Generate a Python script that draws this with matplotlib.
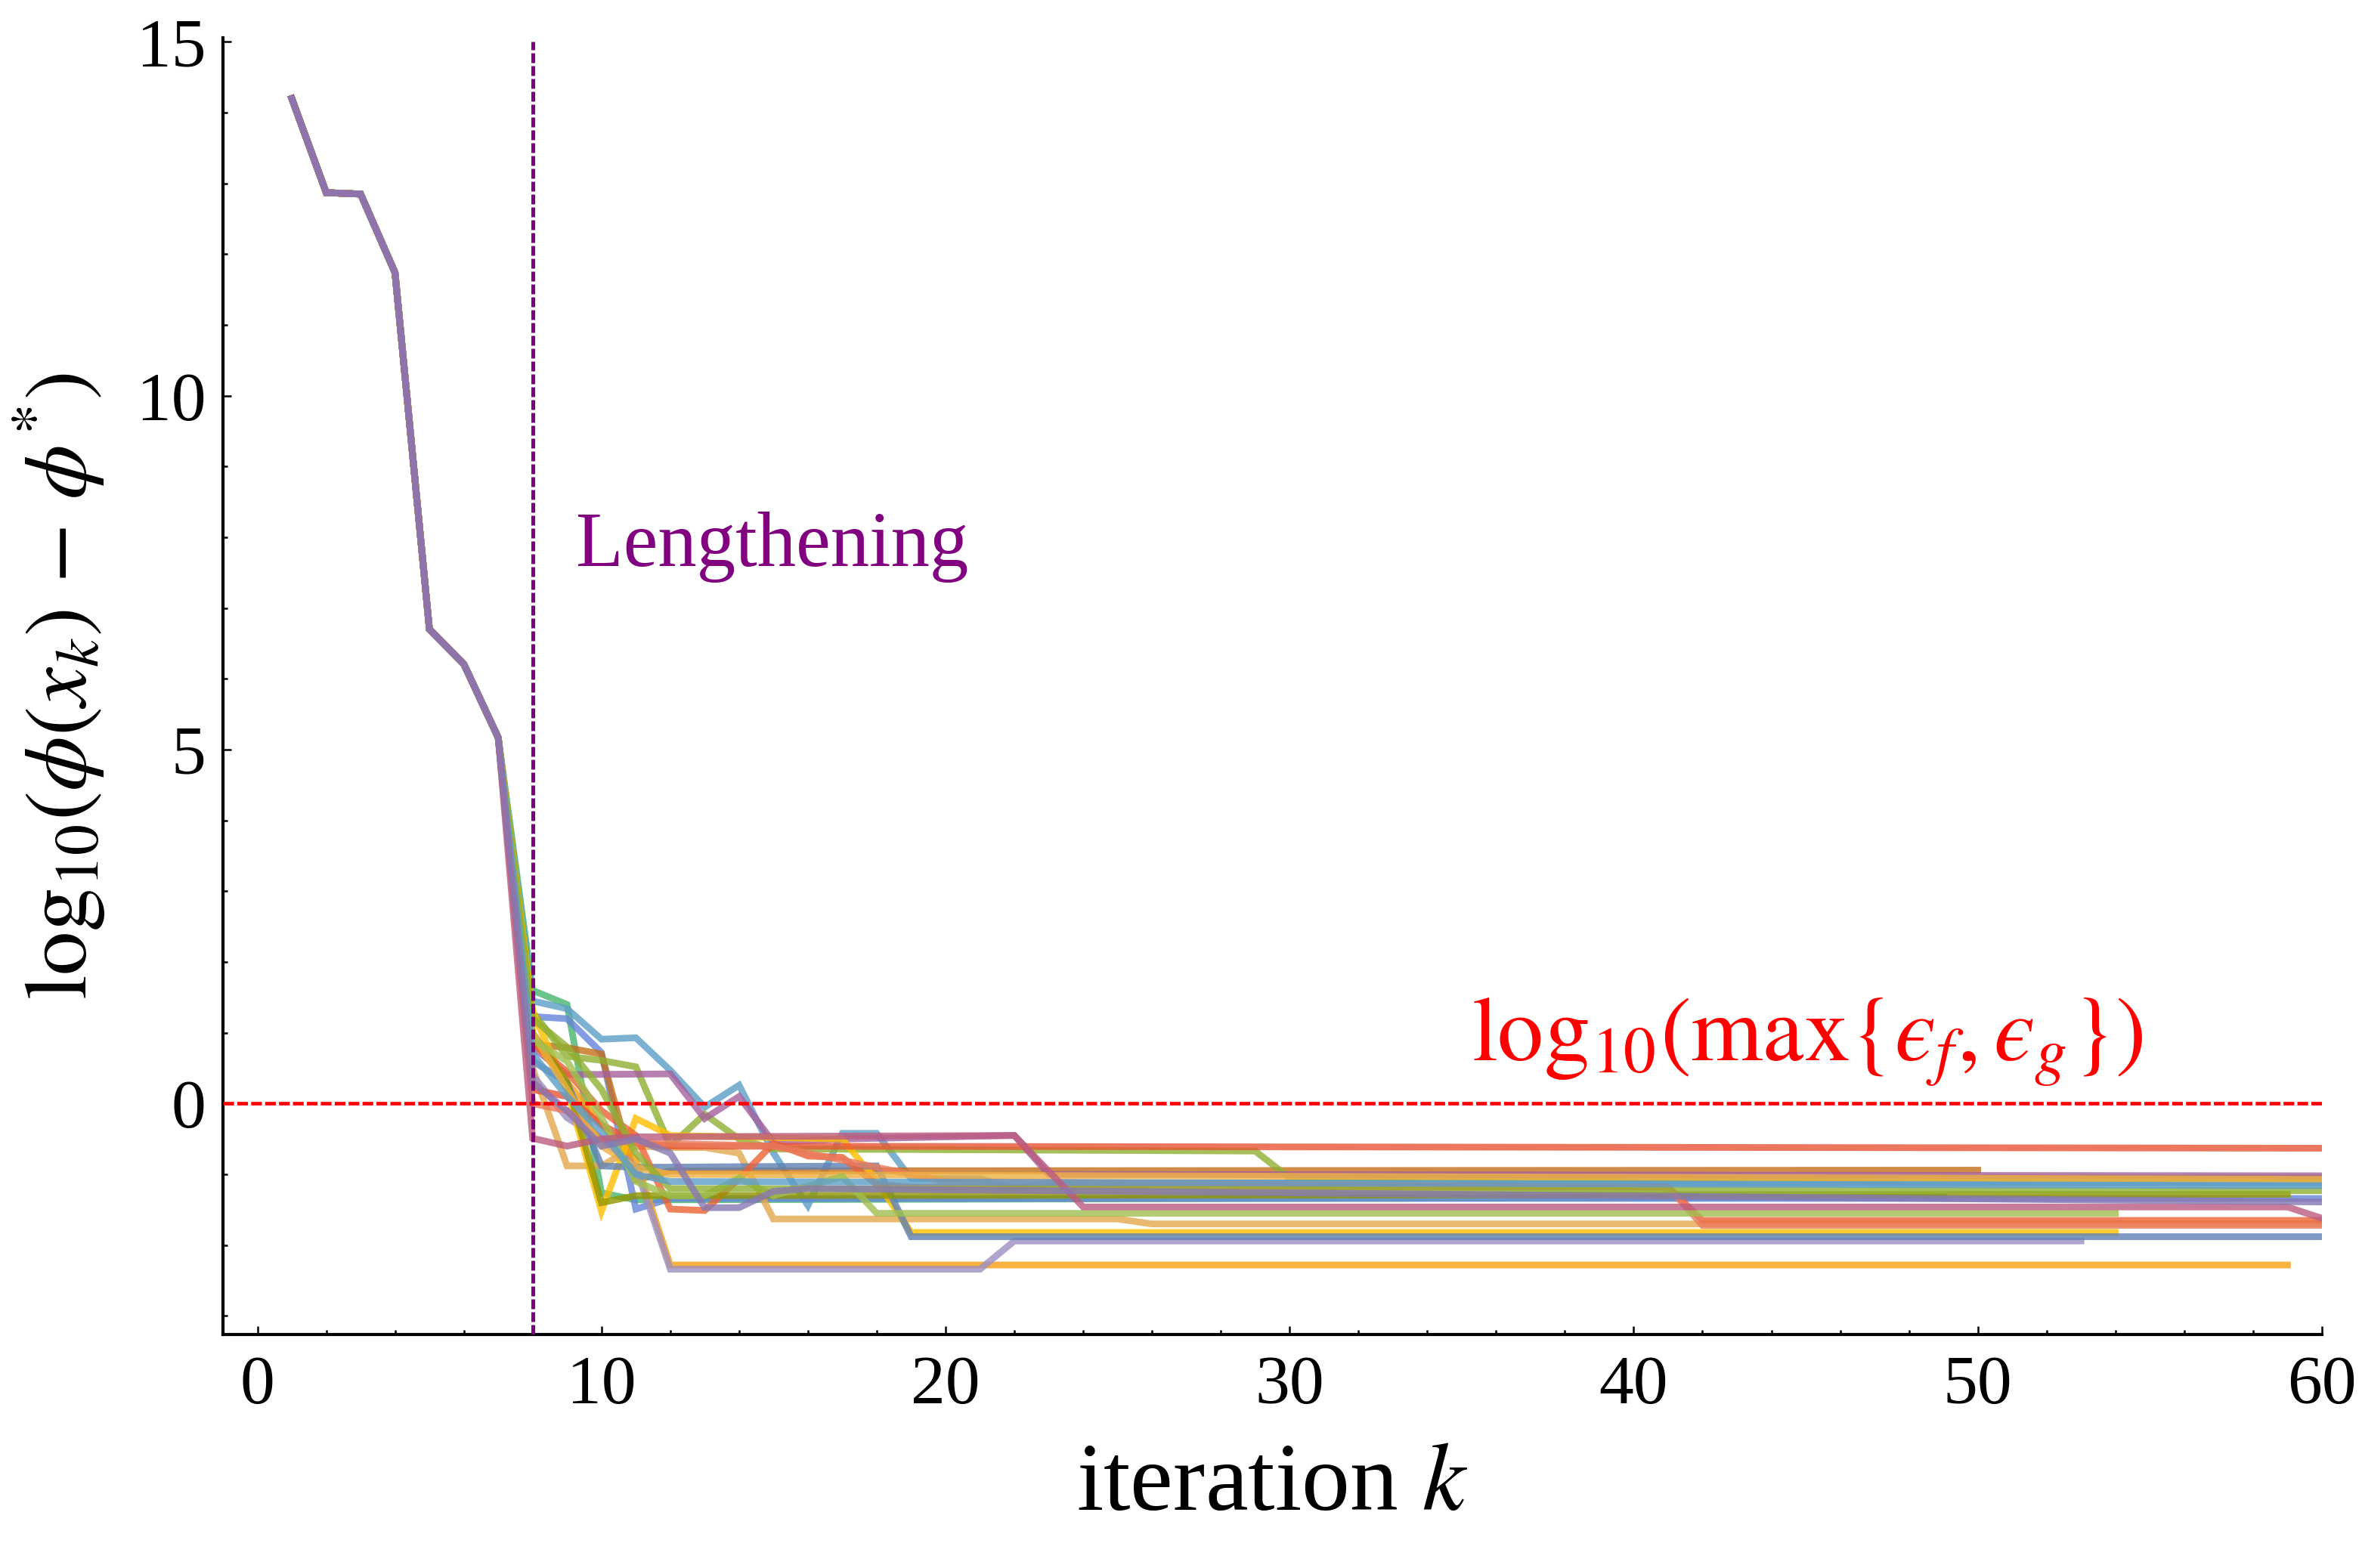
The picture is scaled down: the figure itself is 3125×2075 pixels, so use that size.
import matplotlib
matplotlib.use('Agg')
import matplotlib.pyplot as plt
from matplotlib.ticker import MultipleLocator

plt.rcParams['font.family'] = ['Liberation Serif', 'DejaVu Serif']
plt.rcParams['mathtext.fontset'] = 'stix'

# shared first iterations (k = 1..7), before the lengthening step
head_k = [1, 2, 3, 4, 5, 6, 7]
head_val = [14.2, 12.87, 12.85, 11.74, 6.70, 6.21, 5.17]

# each run after k = 8: vertices (k, value)
run_colors = [
    '#47B66D', '#5D9EC7', '#6685D9', '#C56E1A', '#8FB032', '#A5609D',
    '#E3A84E', '#F89F13', '#9C8FC0', '#FFBF00', '#5E81B5', '#EB6235',
    '#929600', '#E95536', '#EB7B5D', '#F0B040', '#A0C050', '#8FB032',
    '#5D9EC7', '#BC5B80', '#8778B3',
]
run_k = [
    [8, 9, 10, 11, 49],
    [8, 9, 10, 11, 12, 13, 14, 15, 16, 17, 18, 19, 21, 22, 23, 60],
    [8, 9, 10, 11, 12, 60],
    [8, 9, 10, 11, 12, 50],
    [8, 9, 10, 11, 12, 13, 14, 15, 29, 30, 60],
    [8, 9, 12, 13, 14, 15, 17, 22, 23, 60],
    [8, 9, 10, 11, 12, 13, 14, 15, 25, 26, 60],
    [8, 9, 10, 11, 12, 59],
    [8, 9, 10, 11, 12, 21, 22, 53],
    [8, 9, 10, 11, 12, 17, 18, 19, 54],
    [8, 9, 10, 11, 18, 19, 60],
    [8, 9, 10, 11, 12, 13, 14, 15, 16, 17, 18, 19, 41, 42, 60],
    [8, 9, 10, 11, 59],
    [8, 9, 10, 11, 12, 60],
    [8, 9, 10, 11, 15, 20, 41, 42, 60],
    [8, 9, 10, 11, 12, 60],
    [8, 9, 10, 11, 12, 13, 14, 15, 17, 18, 54],
    [8, 9, 10, 11, 12, 60],
    [8, 9, 10, 11, 12, 60],
    [8, 9, 10, 11, 22, 24, 59, 60],
    [8, 9, 10, 11, 12, 13, 14, 15, 16, 60],
]
run_val = [
    [1.60, 1.40, -1.26, -1.36, -1.32],
    [1.45, 1.34, 0.91, 0.93, 0.47, -0.05, 0.26, -0.70, -1.44, -0.42, -0.42, -1.06, -1.06, -1.20, -1.12, -1.12],
    [1.23, 1.20, 0.72, -1.49, -1.34, -1.34],
    [0.84, 0.79, 0.70, -1.08, -0.95, -0.94],
    [1.29, 0.67, 0.61, 0.52, -0.60, -0.15, -0.50, -0.64, -0.67, -1.05, -1.05],
    [0.80, 0.41, 0.42, -0.21, 0.10, -0.55, -0.50, -0.45, -1.00, -1.02],
    [0.50, -0.88, -0.88, -0.60, -0.62, -0.62, -0.70, -1.63, -1.63, -1.70, -1.70],
    [0.90, 0.30, -0.30, -0.80, -2.28, -2.28],
    [0.40, -0.20, -0.50, -0.90, -2.34, -2.34, -1.94, -1.94],
    [1.30, 0.20, -1.52, -0.21, -0.45, -0.50, -1.10, -1.82, -1.82],
    [0.60, 0.30, -0.88, -0.90, -0.88, -1.88, -1.88],
    [0.85, 0.45, -0.10, -0.45, -1.49, -1.51, -1.06, -0.56, -0.74, -0.76, -1.14, -1.18, -1.18, -1.65, -1.65],
    [1.00, 0.30, -1.40, -1.30, -1.28],
    [0.20, 0.10, -0.30, -0.55, -0.60, -0.63],
    [0.00, -0.10, -0.50, -0.55, -0.60, -1.10, -1.18, -1.72, -1.72],
    [1.00, 0.20, -0.60, -0.90, -1.00, -1.07],
    [0.90, 0.60, -0.20, -1.10, -1.30, -1.30, -1.05, -1.30, -1.03, -1.55, -1.55],
    [1.20, 0.80, 0.20, -0.70, -1.20, -1.23],
    [0.70, 0.10, -0.40, -1.00, -1.10, -1.16],
    [-0.49, -0.60, -0.50, -0.47, -0.45, -1.46, -1.46, -1.62],
    [0.30, -0.10, -0.60, -0.50, -0.70, -1.47, -1.47, -1.24, -1.20, -1.39],
]

lengthening_k = 8
tolerance_level = 0.0

fig = plt.figure(figsize=(15.625, 10.375), dpi=200)
ax = fig.add_axes([0.0944, 0.149, 0.8886, 0.827])

for c, ks, vs in zip(run_colors, run_k, run_val):
    ax.plot(head_k + ks, head_val + vs, color=c, lw=3.2, alpha=0.8,
            solid_joinstyle='miter', zorder=2)

ax.axhline(tolerance_level, color='#FF0000', lw=1.7, dashes=(3.0, 0.9), zorder=3)
ax.plot([lengthening_k, lengthening_k], [-3.26, 15.0], color='#800080', lw=1.8,
        dashes=(2.6, 0.8), zorder=3)

ax.text(9.25, 7.6, 'Lengthening', color='#800080', fontsize=37, va='baseline')
ax.text(35.3, 0.6, r'$\mathrm{log}_{10}(\mathrm{max}\{ϵ_f,ϵ_g\})$',
        color='#FF0000', fontsize=44, va='baseline')

ax.set_xlim(-1, 60)
ax.set_ylim(-3.26, 15.06)
ax.spines['top'].set_visible(False)
ax.spines['right'].set_visible(False)
ax.spines['left'].set_linewidth(1.5)
ax.spines['bottom'].set_linewidth(1.5)

ax.xaxis.set_major_locator(MultipleLocator(10))
ax.xaxis.set_minor_locator(MultipleLocator(2))
ax.yaxis.set_major_locator(MultipleLocator(5))
ax.yaxis.set_minor_locator(MultipleLocator(1))
ax.tick_params(which='both', direction='in', width=0.9, labelsize=33)
ax.tick_params(which='major', length=4.0)
ax.tick_params(which='minor', length=2.2)
ax.tick_params(axis='x', which='major', pad=10)
ax.tick_params(axis='y', which='major', pad=8)

ax.set_xlabel(r'iteration $k$', fontsize=46, labelpad=12)
ax.set_ylabel(r'$\mathrm{log}_{10}(\phi(x_k)\,-\,\phi^{*})$', fontsize=42, labelpad=14)

fig.savefig('out.png', dpi=200)
